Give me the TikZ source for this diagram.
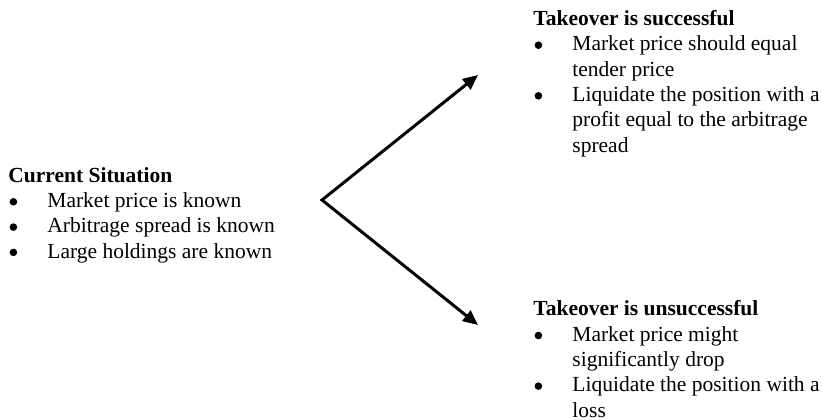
\documentclass[tikz,border=0pt]{standalone}
\usepackage{fontspec}
\setmainfont{Liberation Serif}
\usetikzlibrary{arrows.meta}
\newcommand{\itembullet}{\makebox[19.5pt][l]{\hspace{0.6pt}\tikz[baseline=-2.8pt]\fill (0,0) circle (1.9pt);}}
\newcommand{\itemgap}{\hspace*{19.5pt}}
\begin{document}
\begin{tikzpicture}[x=0.5pt, y=-0.5pt,
    block/.style={anchor=base west, inner sep=0pt, align=left,
        font=\fontsize{10.75pt}{12.65pt}\selectfont},
    branch/.style={line width=1.5pt, {Triangle[length=7.5pt,width=6.5pt]}-{Triangle[length=7.5pt,width=6.5pt]}}]
    \useasboundingbox (0,0) rectangle (822,419);

    % Current situation (anchored at its last line)
    \node[block] (current) at (8,258) {\textbf{Current Situation}\\
        \itembullet Market price is known\\
        \itembullet Arbitrage spread is known\\
        \itembullet Large holdings are known};

    % Takeover is successful
    \node[block] (success) at (533,152) {\textbf{Takeover is successful}\\
        \itembullet Market price should equal\\
        \itemgap tender price\\
        \itembullet Liquidate the position with a\\
        \itemgap profit equal to the arbitrage\\
        \itemgap spread};

    % Takeover is unsuccessful
    \node[block] (failure) at (533,417) {\textbf{Takeover is unsuccessful}\\
        \itembullet Market price might\\
        \itemgap significantly drop\\
        \itembullet Liquidate the position with a\\
        \itemgap loss};

    % Branches
    \coordinate (fork) at (322,200);
    \coordinate (upper) at (478,75);
    \coordinate (lower) at (478,325);
    \draw[branch, line join=miter] (upper) -- (fork) -- (lower);
\end{tikzpicture}
\end{document}
